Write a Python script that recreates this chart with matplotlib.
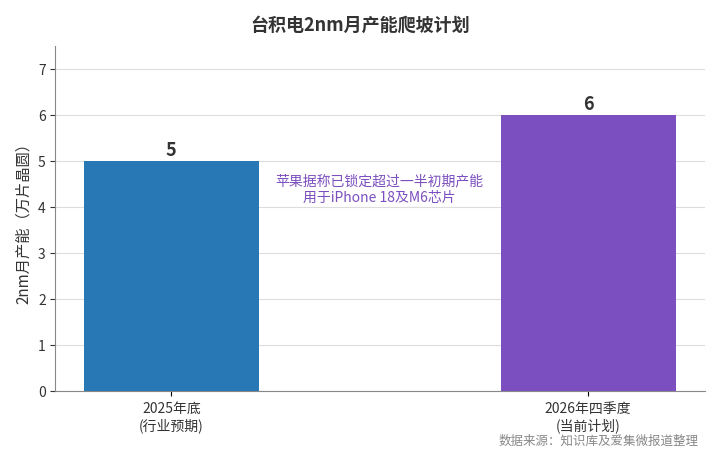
import matplotlib
matplotlib.use("Agg")
import matplotlib.pyplot as plt

plt.rcParams['font.family'] = ['Noto Sans CJK SC', 'DejaVu Sans']

categories = ["2025年底\n(行业预期)", "2026年四季度\n(当前计划)"]
values = [5, 6]
colors = ["#2878b5", "#7b4fbf"]

fig = plt.figure(figsize=(7.2, 4.6), dpi=100)
ax = fig.add_axes([0.077, 0.148, 0.902, 0.75])
x = [0, 1]
ax.bar(x, values, width=0.42, color=colors, zorder=3)
for xi, v in zip(x, values):
    ax.text(xi, v + 0.05, str(v), ha='center', va='bottom', fontsize=13, fontweight='bold', color='#333333')
ax.set_xlim(-0.278, 1.28)
ax.set_ylim(0, 7.5)
ax.set_yticks(range(0, 8))
ax.set_xticks(x)
ax.set_xticklabels(categories, fontsize=10, color='#333333')
ax.tick_params(axis='y', labelsize=10, colors='#333333')
ax.set_ylabel("2nm月产能（万片晶圆）", fontsize=11, color='#333333')
ax.grid(axis='y', color='#dddddd', linewidth=0.8, zorder=0)
for s in ['top', 'right']:
    ax.spines[s].set_visible(False)
ax.spines['left'].set_color('#888888')
ax.spines['bottom'].set_color('#888888')
ax.text(0.5, 4.4, "苹果据称已锁定超过一半初期产能\n用于iPhone 18及M6芯片", ha='center', va='center',
        fontsize=10, color='#7b4fbf', linespacing=1.2)
fig.suptitle("台积电2nm月产能爬坡计划", fontsize=13, fontweight='bold', color='#333333', y=0.965)
fig.text(0.97, 0.04, "数据来源：知识库及爱集微报道整理", ha='right', va='center', fontsize=9, color='#888888')
fig.savefig("out.png", dpi=100)
